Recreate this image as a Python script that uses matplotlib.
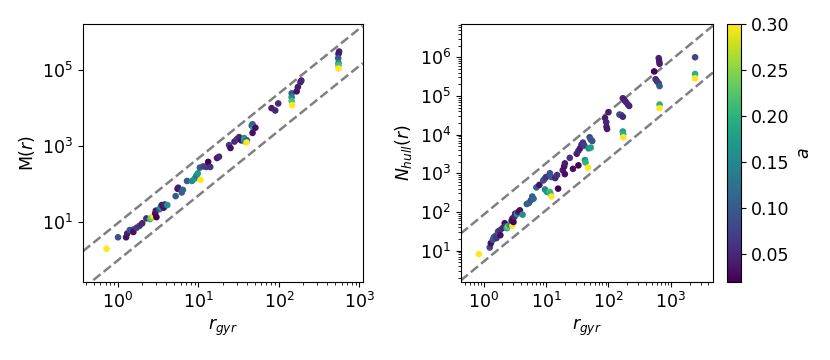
import matplotlib
matplotlib.use('Agg')
import matplotlib.pyplot as plt
from matplotlib.ticker import NullLocator
import numpy as np

# left panel: M(r) vs r_gyr
rg_m = [0.72, 1.0, 1.26, 1.3, 1.4, 1.55, 1.55, 1.7,
        1.85, 2.0, 2.25, 2.5, 2.6, 2.75, 2.9, 3.0,
        2.95, 3.3, 3.4, 3.5, 3.7, 3.8, 4.1, 5.2,
        5.5, 5.6, 6.2, 6.4, 7.2, 8.3, 9.0, 9.4,
        9.8, 10.6, 10.4, 11.5, 12.5, 13.2, 14.0, 17,
        18, 24, 25, 28, 30, 32, 34, 37,
        37, 38, 40, 39.6, 46, 47, 48, 47,
        51, 81, 90, 98, 144, 144, 144, 146,
        166, 172, 185, 190, 560, 550, 545, 550,
        550, 550]
mass = [2.0, 4.0, 4.0, 5.0, 6.2, 6.4, 5.5, 7.1,
        8.0, 9.3, 12.5, 12.0, 13.0, 14.5, 17, 13.5,
        20, 22, 25, 28, 24, 29, 28, 48,
        75, 80, 60, 70, 120, 120, 140, 165,
        190, 128, 270, 290, 280, 380, 280, 480,
        520, 1050, 880, 1300, 1500, 1700, 1400, 1600,
        1400, 1300, 1400, 1230, 3400, 3700, 3000, 2200,
        3000, 9800, 8500, 13000, 24000, 19000, 15000, 11700,
        27000, 35000, 47000, 52000, 300000, 260000, 200000, 150000,
        130000, 107000]
a_m = [0.30, 0.09, 0.03, 0.04, 0.09, 0.08, 0.03, 0.07,
       0.06, 0.05, 0.06, 0.20, 0.25, 0.30, 0.03, 0.02,
       0.04, 0.12, 0.17, 0.04, 0.03, 0.05, 0.16, 0.10,
       0.03, 0.04, 0.10, 0.11, 0.10, 0.15, 0.17, 0.13,
       0.17, 0.30, 0.10, 0.08, 0.07, 0.02, 0.06, 0.04,
       0.05, 0.07, 0.03, 0.05, 0.06, 0.05, 0.03, 0.16,
       0.19, 0.14, 0.10, 0.30, 0.08, 0.10, 0.17, 0.03,
       0.03, 0.04, 0.05, 0.05, 0.10, 0.15, 0.22, 0.30,
       0.03, 0.04, 0.05, 0.05, 0.05, 0.04, 0.10, 0.16,
       0.22, 0.30]

# right panel: N_hull(r) vs r_gyr
rg_n = [0.84, 1.25, 1.3, 1.4, 1.45, 1.55, 1.6, 1.7,
        1.75, 1.8, 1.85, 2.0, 2.17, 2.25, 2.35, 2.45,
        2.6, 2.89, 2.8, 2.9, 3.0, 3.1, 3.2, 3.4,
        3.6, 3.8, 4.2, 4.9, 5.3, 5.7, 6.0, 6.3,
        7.0, 7.8, 9.0, 9.5, 10.0, 9.6, 10.3, 11.5,
        12.2, 11.5, 11.8, 12.2, 15.6, 14.0, 15.0, 18.5,
        19.5, 20, 20, 24, 27, 31, 33, 35,
        33, 37, 39, 41, 50, 52, 55, 48,
        52, 42, 43, 47, 88, 92, 100, 93,
        95, 150, 160, 170, 170, 172, 173, 170,
        180, 190, 205, 215, 540, 640, 650, 660,
        570, 600, 640, 660, 660, 660, 2450, 2450,
        2450]
n_hull = [8.1, 12, 15.5, 19, 22, 24, 21, 31,
          28, 33, 25, 38, 51, 42, 38, 42,
          46, 44, 60, 68, 55, 75, 90, 88,
          100, 110, 85, 160, 170, 200, 250, 220,
          430, 500, 650, 720, 800, 380, 330, 1000,
          800, 330, 290, 250, 400, 750, 900, 1200,
          1500, 1800, 950, 2500, 1300, 3200, 3800, 4400,
          1600, 5500, 6200, 5200, 8500, 7500, 6800, 4400,
          4600, 2200, 1900, 1400, 27000, 21000, 38000, 16000,
          14000, 33000, 32000, 29000, 12000, 10500, 8500, 87000,
          78000, 70000, 60000, 55000, 430000, 950000, 800000, 680000,
          270000, 240000, 210000, 180000, 60000, 48000, 1.0e6, 370000,
          285000]
a_n = [0.30, 0.08, 0.03, 0.09, 0.10, 0.08, 0.06, 0.07,
       0.10, 0.06, 0.03, 0.05, 0.03, 0.07, 0.20, 0.24,
       0.17, 0.30, 0.04, 0.03, 0.02, 0.05, 0.04, 0.16,
       0.04, 0.03, 0.16, 0.10, 0.11, 0.09, 0.10, 0.11,
       0.10, 0.03, 0.09, 0.08, 0.06, 0.15, 0.17, 0.09,
       0.10, 0.22, 0.20, 0.30, 0.02, 0.05, 0.06, 0.04,
       0.03, 0.04, 0.03, 0.06, 0.03, 0.04, 0.05, 0.04,
       0.02, 0.05, 0.06, 0.07, 0.08, 0.10, 0.09, 0.16,
       0.18, 0.16, 0.20, 0.30, 0.04, 0.05, 0.04, 0.05,
       0.04, 0.09, 0.08, 0.05, 0.17, 0.20, 0.30, 0.05,
       0.04, 0.05, 0.05, 0.05, 0.02, 0.05, 0.04, 0.04,
       0.05, 0.06, 0.07, 0.10, 0.20, 0.30, 0.08, 0.20,
       0.30]

# guide lines y = c * x**p
m_slope, m_upper, m_lower = 1.7, 9.5, 1.0
n_slope, n_upper, n_lower = 1.33, 85.0, 5.2

assert len(rg_m) == len(mass) == len(a_m)
assert len(rg_n) == len(n_hull) == len(a_n)

plt.rcParams['font.size'] = 12.5

fig = plt.figure(figsize=(8.3, 3.6), dpi=100)
ax1 = fig.add_axes([0.100, 0.217, 0.337, 0.716])
ax2 = fig.add_axes([0.555, 0.217, 0.304, 0.716])
cax = fig.add_axes([0.876, 0.217, 0.017, 0.716])

vmin, vmax = 0.02, 0.30

# left
xlim1 = (0.367, 1100)
xx = np.logspace(np.log10(xlim1[0]), np.log10(xlim1[1]), 50)
ax1.scatter(rg_m, mass, c=a_m, cmap='viridis', vmin=vmin, vmax=vmax, s=14, zorder=2)
ax1.plot(xx, m_upper * xx**m_slope, '--', color='gray', lw=1.8, zorder=1)
ax1.plot(xx, m_lower * xx**m_slope, '--', color='gray', lw=1.8, zorder=1)
ax1.set_xscale('log')
ax1.set_yscale('log')
ax1.set_xlim(xlim1)
ax1.set_ylim(0.27, 1.57e6)
ax1.set_yticks([1e1, 1e3, 1e5])
ax1.yaxis.set_minor_locator(NullLocator())
ax1.set_xlabel('$r_{gyr}$')
ax1.set_ylabel('M($r$)')

# right
xlim2 = (0.427, 4740)
xx = np.logspace(np.log10(xlim2[0]), np.log10(xlim2[1]), 50)
sc = ax2.scatter(rg_n, n_hull, c=a_n, cmap='viridis', vmin=vmin, vmax=vmax, s=14, zorder=2)
ax2.plot(xx, n_upper * xx**n_slope, '--', color='gray', lw=1.8, zorder=1)
ax2.plot(xx, n_lower * xx**n_slope, '--', color='gray', lw=1.8, zorder=1)
ax2.set_xscale('log')
ax2.set_yscale('log')
ax2.set_xlim(xlim2)
ax2.set_ylim(1.55, 7.2e6)
ax2.set_xlabel('$r_{gyr}$')
ax2.set_ylabel('$N_{hull}(r)$')

cb = fig.colorbar(sc, cax=cax)
cb.set_label('$a$')

plt.savefig('out.png', dpi=100)
plt.close()
